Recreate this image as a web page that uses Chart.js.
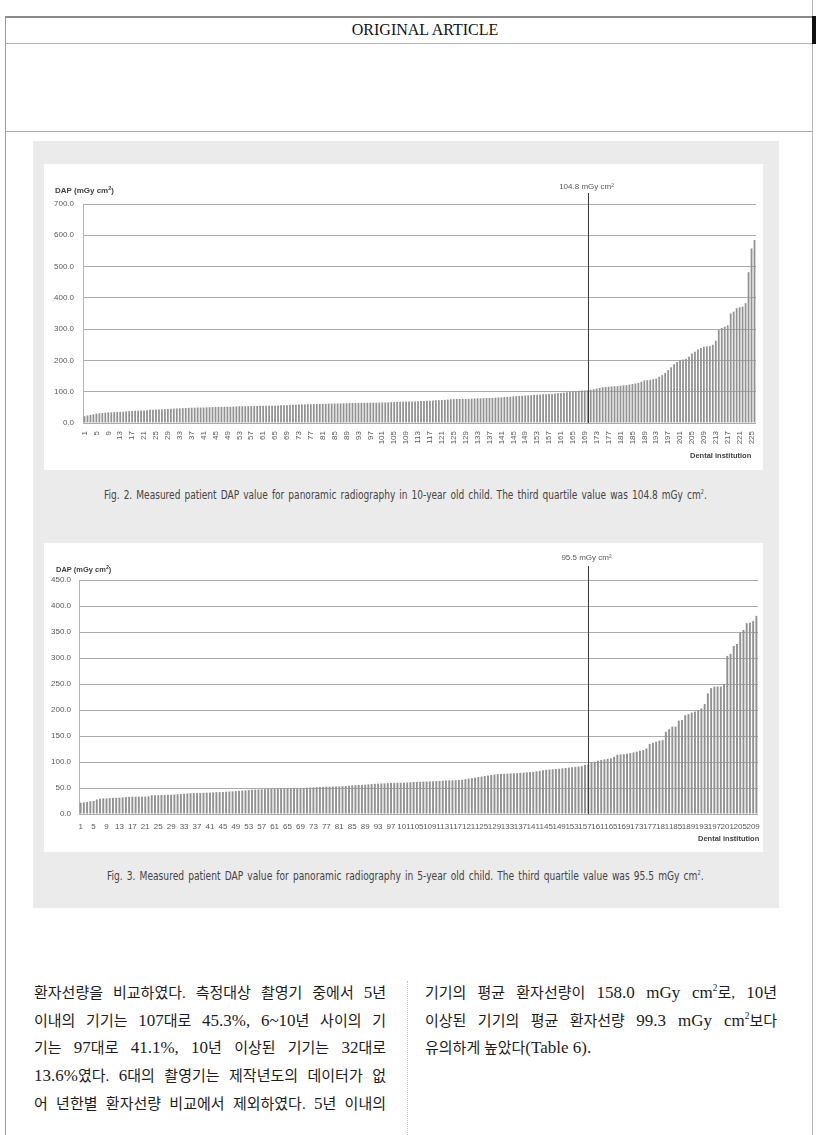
<!DOCTYPE html>
<html>
<head>
<meta charset="utf-8">
<title>Measured patient DAP value</title>
<script src="https://cdn.jsdelivr.net/npm/chart.js@4.4.1/dist/chart.umd.min.js"></script>
<style>
  html, body { margin: 0; padding: 0; background: #fff; }
  body { width: 816px; height: 1135px; position: relative; overflow: hidden; font-family: 'Liberation Serif', serif; }
  .abs { position: absolute; }
  #frameL { left: 5px; top: 16px; width: 1px; height: 1119px; background: #9a9a9a; }
  #frameR { left: 812px; top: 0; width: 1px; height: 1135px; background: #b8b8b8; }
  #headTop { left: 5px; top: 16px; width: 808px; height: 2px; background: #8a8a8a; }
  #headMid { left: 5px; top: 43px; width: 808px; height: 1px; background: #b4b4b4; }
  #headBot { left: 5px; top: 131px; width: 808px; height: 1px; background: #a8a8a8; }
  #headBar { left: 812px; top: 16px; width: 4px; height: 28px; background: #111; }
  #headTitle { left: 5px; top: 21px; width: 840px; text-align: center; font-size: 16px; color: #111; }

  #panel { left: 33px; top: 141px; width: 746px; height: 767px; background: #ebebeb; }
  .box { background: #fff; }
  #box1 { left: 44px; top: 164px; width: 719px; height: 306px; }
  #box2 { left: 44px; top: 543px; width: 719px; height: 309px; }
  .box canvas { position: absolute; left: 0; top: 0; }

  .ytitle { font-family: 'Liberation Sans', sans-serif; font-weight: bold; color: #404040; white-space: nowrap; }
  .xtitle { font-family: 'Liberation Sans', sans-serif; font-weight: bold; color: #404040; white-space: nowrap; font-size: 7.5px; }
  .ytitle sup, .xtitle sup { font-size: 0.7em; vertical-align: 0.5em; line-height: 0; }

  .caption { font-family: 'Liberation Sans Narrow', 'DejaVu Sans Condensed', 'Liberation Sans', sans-serif;
             font-size: 12.5px; word-spacing: 1.5px; color: #444; white-space: nowrap; transform-origin: center center; }
  .caption sup { font-size: 0.55em; vertical-align: 0.8em; line-height: 0; }

  .col { font-family: 'Liberation Serif', 'Noto Sans CJK KR', serif; font-size: 15px; color: #1c1c1c; width: 352px; }
  .col div { height: 27.7px; line-height: 27.7px; text-align: justify; text-align-last: justify; white-space: nowrap; overflow: visible; }
  .col div.last { text-align-last: left; }
  .col .lt { font-size: 17px; }
  .col sup { font-size: 0.55em; vertical-align: 0.75em; line-height: 0; }
  #colL { left: 34px; top: 979px; }
  #colR { left: 425px; top: 979px; }
  #sep { left: 407px; top: 981px; height: 154px; width: 0; border-left: 1px dotted #c4c4c4; }
</style>
</head>
<body>
<div class="abs" id="frameL"></div>
<div class="abs" id="frameR"></div>
<div class="abs" id="headTop"></div>
<div class="abs" id="headMid"></div>
<div class="abs" id="headBot"></div>
<div class="abs" id="headBar"></div>
<div class="abs" id="headTitle">ORIGINAL ARTICLE</div>

<div class="abs" id="panel"></div>
<div class="abs box" id="box1"><canvas id="chart10" width="719" height="306"></canvas></div>
<div class="abs box" id="box2"><canvas id="chart5" width="719" height="309"></canvas></div>

<div class="abs ytitle" style="left:55px; top:186px; font-size:8px;">DAP (mGy cm<sup>2</sup>)</div>
<div class="abs xtitle" style="left:690px; top:451px;">Dental institution</div>
<div class="abs ytitle" style="left:56px; top:565px; font-size:7.5px;">DAP (mGy cm<sup>2</sup>)</div>
<div class="abs xtitle" style="left:698px; top:834px;">Dental institution</div>

<div class="abs caption" id="cap1">Fig. 2. Measured patient DAP value for panoramic radiography in 10-year old child. The third quartile value was 104.8 mGy cm<sup>2</sup>.</div>
<div class="abs caption" id="cap2">Fig. 3. Measured patient DAP value for panoramic radiography in 5-year old child. The third quartile value was 95.5 mGy cm<sup>2</sup>.</div>

<div class="abs col" id="colL">
  <div>환자선량을 비교하였다. 측정대상 촬영기 중에서 <span class="lt">5</span>년</div>
  <div>이내의 기기는 <span class="lt">107</span>대로 <span class="lt">45.3%,</span> <span class="lt">6~10</span>년 사이의 기</div>
  <div>기는 <span class="lt">97</span>대로 <span class="lt">41.1%,</span> <span class="lt">10</span>년 이상된 기기는 <span class="lt">32</span>대로</div>
  <div><span class="lt">13.6%</span>였다. <span class="lt">6</span>대의 촬영기는 제작년도의 데이터가 없</div>
  <div>어 년한별 환자선량 비교에서 제외하였다. <span class="lt">5</span>년 이내의</div>
</div>
<div class="abs" id="sep"></div>
<div class="abs col" id="colR">
  <div>기기의 평균 환자선량이 <span class="lt">158.0 mGy cm<sup>2</sup></span>로, <span class="lt">10</span>년</div>
  <div>이상된 기기의 평균 환자선량 <span class="lt">99.3 mGy cm<sup>2</sup></span>보다</div>
  <div class="last">유의하게 높았다<span class="lt">(Table 6).</span></div>
</div>

<script>
// Fig. 2 - 10-year old child, sorted DAP per dental institution
const dap10Values = [
  22, 24, 26, 28, 30, 31, 32, 33, 34, 34,
  35, 35, 35.5, 36, 37, 38, 38.5, 39, 39, 40,
  40, 41, 42, 42.5, 43, 43.5, 44, 44.5, 45, 45.5,
  46, 46.5, 47, 47.5, 48, 48.5, 49, 49, 49.5, 49.5,
  49.5, 50, 50.5, 51, 51.5, 51.5, 51.5, 51.5, 52, 52,
  52.5, 53, 53.5, 53.5, 53.8, 54, 54, 54, 54.5, 55,
  55, 55, 55.2, 55.5, 55.5, 56, 56.5, 57, 57, 57.5,
  58, 58.5, 59, 59.5, 59.5, 60, 60, 60.5, 61, 61,
  61.2, 61.5, 62, 62, 62.2, 62.5, 62.5, 62.8, 63, 63.5,
  64, 64, 64.5, 64.5, 64.5, 64.7, 65, 65, 65, 65.2,
  65.5, 65.5, 66, 66.5, 67, 67.5, 68, 68.5, 69, 69,
  69, 69, 69.5, 70, 70.5, 71, 71, 72, 72.5, 73,
  73.5, 74, 75, 76, 76.5, 76.7, 76.8, 77, 77, 77.5,
  78, 78.5, 79, 79, 79.5, 80, 80, 80.5, 81, 81.5,
  82, 83, 83.5, 84, 85, 86, 86.5, 87, 88, 88.5,
  89, 90, 90.5, 91, 91.5, 92, 92.6, 93, 94, 95,
  96, 97, 98.5, 100, 101, 102, 103, 104, 104.2, 104.8,
  106, 108, 110, 112, 114, 115, 116, 117, 117.5, 118,
  119, 120, 121, 123, 124.6, 126, 128, 132, 136, 137,
  138, 140, 142, 148, 153, 160, 169, 178, 188, 195,
  201, 203, 205, 212, 222, 228, 235, 240, 244, 245,
  246, 250, 263, 297, 304, 308, 312, 350, 356, 367,
  370, 372, 383, 482, 558, 585
];
const dap10Ticks = [0, 100, 200, 300, 400, 500, 600, 700];
const dap10Q3 = 104.8;
const dap10Q3Bar = 170;

// Fig. 3 - 5-year old child
const dap5Values = [
  21.8, 22.4, 23, 24.4, 25, 28, 29.5, 30, 30, 30.5,
  31, 31, 31.4, 32, 32.5, 33, 33.3, 33.3, 33.3, 33.3,
  33.5, 34, 36, 36, 36, 36.5, 36.5, 37, 37, 37.5,
  38, 38.5, 39, 39.5, 40, 40.2, 40.4, 40.6, 40.8, 41,
  41, 41.5, 42, 42.2, 42.3, 42.8, 43.2, 43.6, 44, 44.5,
  45, 45.5, 46, 46.5, 47, 47.2, 47.4, 47.8, 48.2, 48.5,
  48.7, 49, 49.2, 49.4, 49.4, 49.4, 49.4, 49.4, 49.5, 50,
  50.5, 51, 51.3, 51.6, 52, 52.3, 52.6, 52.7, 52.8, 53,
  53, 53.5, 54, 54.5, 55, 55.4, 55.8, 56, 56.4, 57,
  57.5, 58, 58.3, 58.7, 59, 59.3, 59.6, 59.8, 60, 60,
  60.2, 60.5, 61, 61.5, 61.7, 62, 62.2, 62.5, 62.8, 63,
  63.3, 63.6, 64, 64.3, 64.6, 64.8, 65, 65.5, 66, 67,
  68, 69, 70, 71, 72, 73, 74, 75, 76, 76.5,
  77, 77.3, 77.6, 78, 78.3, 78.6, 79, 79.5, 80, 80.5,
  81, 82, 83, 84, 85, 85.5, 86, 86.5, 87, 87.8,
  88.5, 89.2, 90, 90.7, 91.3, 92, 94, 95.5, 99, 100.5,
  102.6, 104, 105, 106, 107, 110, 114, 114.5, 115, 116,
  117, 118.5, 120, 121.5, 123, 126, 135, 137, 139, 141,
  142, 158, 163, 168, 168, 179.5, 181, 190, 192, 195,
  197, 200, 203, 211.5, 232, 242, 245, 245, 245, 250,
  304, 308, 323, 327, 349, 354, 367, 368, 371, 381
];
const dap5Ticks = [0, 50, 100, 150, 200, 250, 300, 350, 400, 450];
const dap5Q3 = 95.5;
const dap5Q3Bar = 158;

const institutions10 = dap10Values.map((_, i) => String(i + 1));
const institutions5 = dap5Values.map((_, i) => String(i + 1));

document.addEventListener('DOMContentLoaded', function () {
    Chart.defaults.font.family = "'Liberation Sans', sans-serif";
    Chart.defaults.font.size = 8;
    Chart.defaults.color = '#595959';

    // vertical third quartile marker with its label
    const quartileLine = {
        id: 'quartileLine',
        afterDatasetsDraw(chart, args, opts) {
            const ctx = chart.ctx;
            const area = chart.chartArea;
            const x = Math.round(chart.scales.x.getPixelForValue(opts.bar - 1)) + 0.5;
            ctx.save();
            ctx.strokeStyle = '#3a3a3a';
            ctx.lineWidth = 1;
            ctx.beginPath();
            ctx.moveTo(x, area.top - opts.lineAbove);
            ctx.lineTo(x, area.bottom);
            ctx.stroke();
            ctx.fillStyle = '#595959';
            ctx.font = "8px 'Liberation Sans', sans-serif";
            ctx.textAlign = 'center';
            ctx.textBaseline = 'middle';
            ctx.fillText(opts.value.toFixed(1) + ' mGy cm\u00B2', x - 2, area.top - opts.labelAbove);
            ctx.restore();
        }
    };

    function renderChart(id, labels, values, ticks, q3, q3Bar, lay) {
        return new Chart(document.getElementById(id), {
            type: 'bar',
            data: {
                labels: labels,
                datasets: [{
                    data: values,
                    backgroundColor: '#929292',
                    barPercentage: 0.6,
                    categoryPercentage: 1
                }]
            },
            options: {
                responsive: false,
                animation: false,
                layout: { padding: { top: lay.top, right: lay.right, bottom: 0, left: 0 } },
                plugins: {
                    legend: { display: false },
                    tooltip: { enabled: false },
                    quartileLine: { bar: q3Bar, value: q3, lineAbove: lay.lineAbove, labelAbove: lay.labelAbove }
                },
                scales: {
                    x: {
                        grid: { display: false, drawTicks: false },
                        border: { display: false },
                        ticks: {
                            autoSkip: false,
                            minRotation: lay.rotation,
                            maxRotation: lay.rotation,
                            padding: lay.xPad,
                            color: '#595959',
                            callback: (v, i) => (i % 4 === 0 ? labels[i] : '')
                        },
                        afterFit: s => {
                            s.height = lay.xHeight;
                            s.paddingLeft = 0;
                            s.paddingRight = 0;
                        }
                    },
                    y: {
                        min: ticks[0],
                        max: ticks[ticks.length - 1],
                        grid: { color: '#ababab', drawTicks: false },
                        border: { display: true, color: '#b5b5b5' },
                        ticks: {
                            stepSize: ticks[1] - ticks[0],
                            padding: lay.yPad,
                            color: '#595959',
                            callback: v => v.toFixed(1)
                        },
                        afterFit: s => { s.width = lay.yWidth; }
                    }
                }
            },
            plugins: [quartileLine]
        });
    }

    renderChart('chart10', institutions10, dap10Values, dap10Ticks, dap10Q3, dap10Q3Bar,
        { top: 40, right: 7, yWidth: 39, xHeight: 47, rotation: 90, xPad: 8, yPad: 9, lineAbove: 11, labelAbove: 17 });
    renderChart('chart5', institutions5, dap5Values, dap5Ticks, dap5Q3, dap5Q3Bar,
        { top: 37, right: 5, yWidth: 35, xHeight: 38, rotation: 0, xPad: 8, yPad: 8, lineAbove: 14, labelAbove: 22 });

    // squeeze captions to the width they take in the figure
    function fitCaption(el, cx, cy, w) {
        const nat = el.offsetWidth;
        el.style.left = (cx - nat / 2) + 'px';
        el.style.top = (cy - el.offsetHeight / 2) + 'px';
        el.style.transform = 'scaleX(' + (w / nat) + ')';
    }
    fitCaption(document.getElementById('cap1'), 405.5, 494, 603);
    fitCaption(document.getElementById('cap2'), 405.5, 875, 597);
});
</script>
</body>
</html>
